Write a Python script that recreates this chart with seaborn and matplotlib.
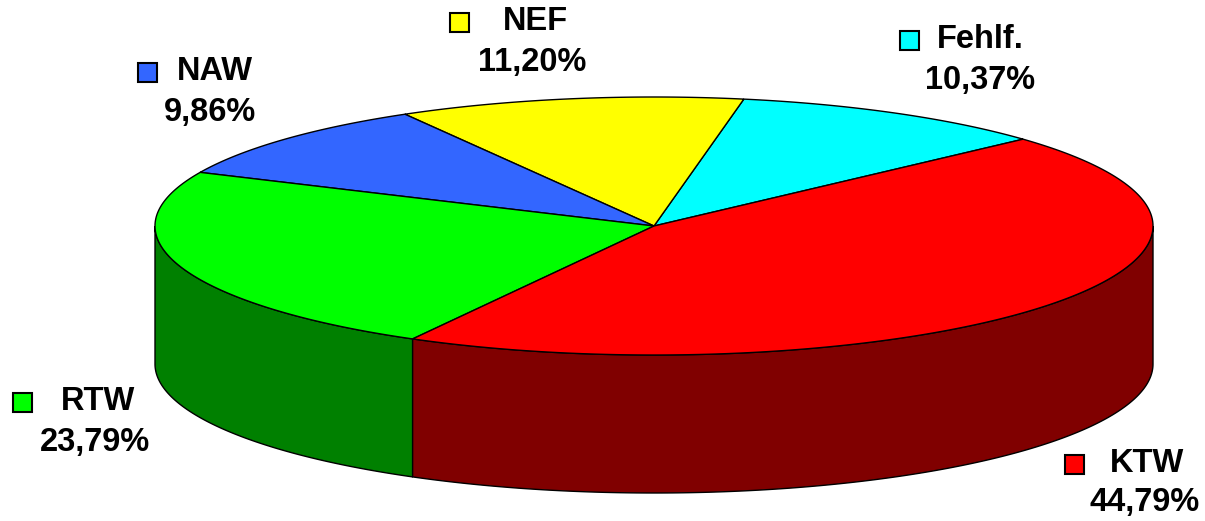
import numpy as np
import matplotlib
matplotlib.use("Agg")
import matplotlib.pyplot as plt
import seaborn as sns
from matplotlib.patches import Polygon, Rectangle

labels = ["Fehlf.", "NEF", "NAW", "RTW", "KTW"]
shares = [10.37, 11.20, 9.86, 23.79, 44.79]
pct_text = ["10,37%", "11,20%", "9,86%", "23,79%", "44,79%"]

top_colors = ["#00FFFF", "#FFFF00", "#3366FF", "#00FF00", "#FF0000"]
side_colors = ["#008080", "#808000", "#1A3380", "#008000", "#800000"]

sns.set_style("white")
plt.rcParams["font.family"] = ["Liberation Sans", "DejaVu Sans"]

fig = plt.figure(figsize=(12.05, 5.21), dpi=100)
ax = fig.add_axes([0, 0, 1, 1])
ax.set_xlim(0, 1205)
ax.set_ylim(521, 0)
ax.axis("off")

# pie geometry (pixel space)
cx, cy = 654, 226
rx, ry = 499, 129
depth = 138
start = 42.3

fr = np.array(shares) / sum(shares)
edges = start + np.concatenate([[0], np.cumsum(fr) * 360])


def pt(a_deg, dz=0.0):
    a = np.radians(a_deg)
    return cx + rx * np.cos(a), cy - ry * np.sin(a) + dz


# side walls: only the front half (180..360 deg) is visible
for i in range(len(shares)):
    a0, a1 = edges[i], edges[i + 1]
    for k in range(-1, 3):
        lo = max(a0, 180 + 360 * k)
        hi = min(a1, 360 + 360 * k)
        if hi <= lo:
            continue
        ang = np.linspace(lo, hi, 200)
        top = [pt(a) for a in ang]
        bot = [pt(a, depth) for a in ang[::-1]]
        ax.add_patch(Polygon(top + bot, closed=True, facecolor=side_colors[i],
                             edgecolor="black", lw=1.0, zorder=2))

# top face slices
for i in range(len(shares)):
    ang = np.linspace(edges[i], edges[i + 1], 300)
    verts = [(cx, cy)] + [pt(a) for a in ang]
    ax.add_patch(Polygon(verts, closed=True, facecolor=top_colors[i],
                         edgecolor="black", lw=1.0, zorder=3))

# labels: (marker x, marker y, name x, pct x, pct y)
label_pos = [
    (909, 40, 980, 980, 80),
    (459, 22, 535, 532, 63),
    (147, 72, 215, 210, 113),
    (22, 402, 98, 95, 443),
    (1074, 464, 1147, 1145, 503),
]
for i, (mx, my, tx, px, py) in enumerate(label_pos):
    ax.add_patch(Rectangle((mx - 9.5, my - 9.5), 19, 19, facecolor=top_colors[i],
                           edgecolor="black", lw=1.5, zorder=5))
    ax.text(tx, my, labels[i], ha="center", va="center", fontsize=23.5,
            fontweight="bold", color="black", zorder=5)
    ax.text(px, py, pct_text[i], ha="center", va="center", fontsize=23.5,
            fontweight="bold", color="black", zorder=5)

fig.savefig("out.png", dpi=100)
